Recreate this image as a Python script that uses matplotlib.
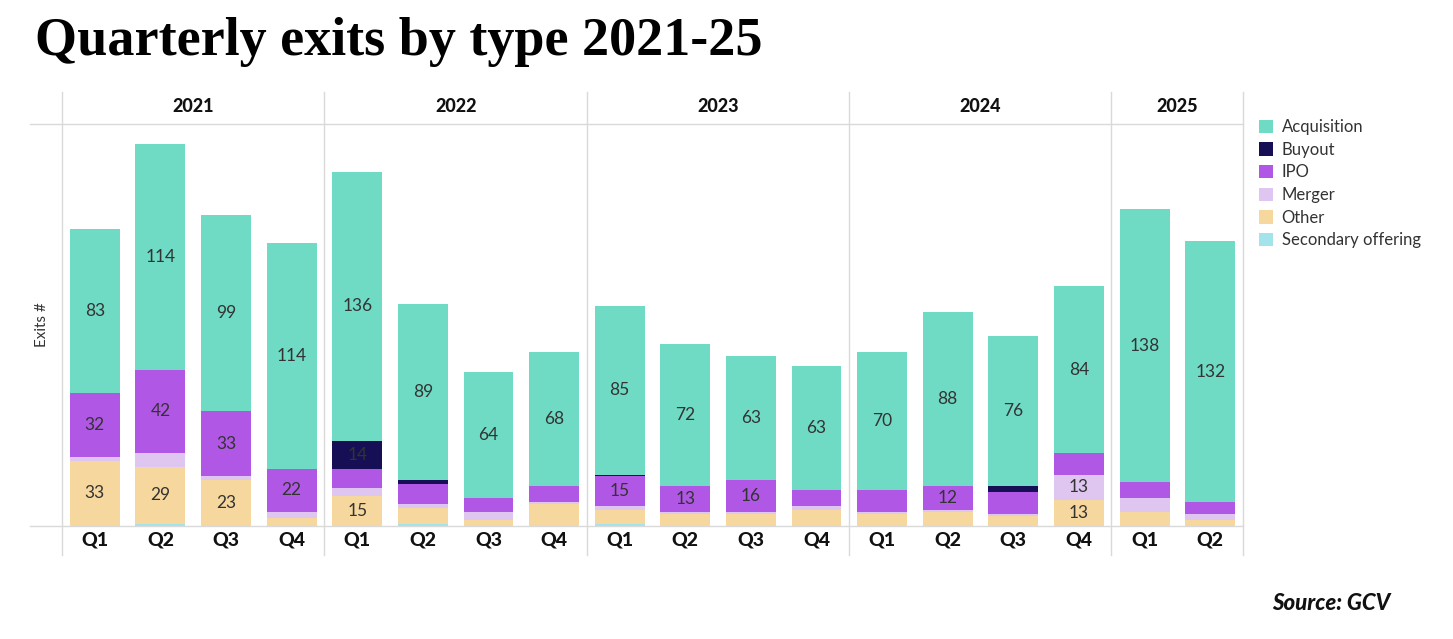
import matplotlib.pyplot as plt
import numpy as np
from matplotlib.lines import Line2D
from matplotlib.patches import Patch

years = ['2021', '2022', '2023', '2024', '2025']
quarters = ['Q1', 'Q2', 'Q3', 'Q4'] * 4 + ['Q1', 'Q2']

# stacked from the bottom up
secondary = [0, 1, 0, 0, 0, 1, 0, 0, 1, 0, 0, 0, 0, 0, 0, 0, 0, 0]
other = [33, 29, 23, 4, 15, 8, 3, 11, 7, 6, 6, 8, 6, 7, 5, 13, 7, 3]
merger = [2, 7, 2, 3, 4, 2, 4, 1, 2, 1, 1, 2, 1, 1, 1, 13, 7, 3]
ipo = [32, 42, 33, 22, 10, 10, 7, 8, 15, 13, 16, 8, 11, 12, 11, 11, 8, 6]
buyout = [0, 0, 0, 0, 14, 2, 0, 0, 1, 0, 0, 0, 0, 0, 3, 0, 0, 0]
acquisition = [83, 114, 99, 114, 136, 89, 64, 68, 85, 72, 63, 63, 70, 88, 76, 84, 138, 132]

series = [
    ('Secondary offering', secondary, '#A3E4EC'),
    ('Other', other, '#F6D79D'),
    ('Merger', merger, '#DEC6F0'),
    ('IPO', ipo, '#B157E5'),
    ('Buyout', buyout, '#160F55'),
    ('Acquisition', acquisition, '#6FDBC5'),
]
legend_order = ['Acquisition', 'Buyout', 'IPO', 'Merger', 'Other', 'Secondary offering']

W, H = 1453, 639
fig = plt.figure(figsize=(W / 100, H / 100), dpi=100)
fig.patch.set_facecolor('white')

font = 'Lato'
ax = fig.add_axes([62 / W, (H - 526) / H, (1243 - 62) / W, (526 - 124) / H])
x = np.arange(len(quarters))
bottom = np.zeros(len(quarters))
for name, vals, col in series:
    vals = np.array(vals, dtype=float)
    ax.bar(x, vals, 0.76, bottom=bottom, color=col, linewidth=0)
    for i, v in enumerate(vals):
        if v >= 12:
            ax.text(x[i], bottom[i] + v / 2, str(int(v)), ha='center', va='center',
                    fontsize=12.5, color='#333333', family=font)
    bottom += vals

ax.set_xlim(-0.5, len(quarters) - 0.5)
ax.set_ylim(0, 203)
for s in ax.spines.values():
    s.set_visible(False)
ax.set_yticks([])
ax.set_xticks(x, quarters)
ax.tick_params(axis='x', length=0, pad=4)
for lbl in ax.get_xticklabels():
    lbl.set_fontsize(14)
    lbl.set_fontweight('black')
    lbl.set_family(font)
    lbl.set_color('#111111')

# year headers
starts = [0, 4, 8, 12, 16]
sizes = [4, 4, 4, 4, 2]
for y, st, n in zip(years, starts, sizes):
    xc = (62 + (st + n / 2) * (1243 - 62) / 18) / W
    fig.text(xc, 1 - 107 / H, y, ha='center', va='center', fontsize=13,
             fontweight='black', family=font, color='#111111')

# grid lines
gc = '#D9D9D9'
for px in [62, 324, 587, 849, 1111, 1243]:
    fig.add_artist(Line2D([px / W, px / W], [1 - 92 / H, 1 - 555 / H], color=gc, lw=1))
for py in [124, 526]:
    fig.add_artist(Line2D([30 / W, 1243 / W], [1 - py / H, 1 - py / H], color=gc, lw=1))

fig.text(42 / W, 1 - 325 / H, 'Exits #', rotation=90, ha='center', va='center',
         fontsize=11, family=font, color='#333333')

fig.text(35 / W, 1 - 42 / H, 'Quarterly exits by type 2021-25', ha='left', va='center',
         fontsize=39, fontweight='bold', family='Liberation Serif', color='#000000')

fig.text(1390 / W, 1 - 604 / H, 'Source: GCV', ha='right', va='center', fontsize=16,
         fontweight='black', style='italic', family=font, color='#111111')

colors = {n: c for n, _, c in series}
handles = [Patch(facecolor=colors[n], edgecolor='none') for n in legend_order]
leg = fig.legend(handles, legend_order, loc='upper left', bbox_to_anchor=(1244 / W, 1 - 104 / H),
                 frameon=False, handlelength=0.85, handleheight=0.85, handletextpad=0.5,
                 labelspacing=0.4, prop={'family': font, 'size': 12})
for t in leg.get_texts():
    t.set_color('#333333')

fig.savefig('out.png', dpi=100)
